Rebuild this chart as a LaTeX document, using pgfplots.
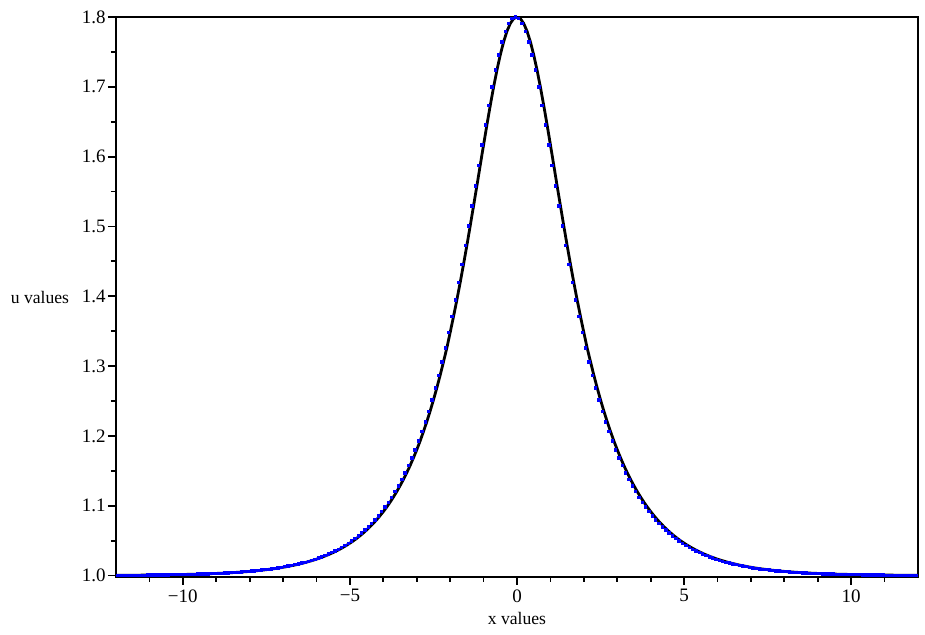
\documentclass[border=0pt]{standalone}
\usepackage{fontspec}
\setmainfont{Liberation Serif}
\usepackage{pgfplots}
\pgfplotsset{compat=1.18}
\usepackage{pgfplotstable}
\pgfplotstableread{
x u
-12.0 1.0004
-11.9 1.0004
-11.8 1.0005
-11.7 1.0005
-11.6 1.0005
-11.5 1.0006
-11.4 1.0006
-11.3 1.0006
-11.2 1.0007
-11.1 1.0007
-11.0 1.0008
-10.9 1.0008
-10.8 1.0009
-10.7 1.0010
-10.6 1.0010
-10.5 1.0011
-10.4 1.0012
-10.3 1.0013
-10.2 1.0014
-10.1 1.0014
-10.0 1.0016
-9.9 1.0017
-9.8 1.0018
-9.7 1.0019
-9.6 1.0020
-9.5 1.0022
-9.4 1.0023
-9.3 1.0025
-9.2 1.0027
-9.1 1.0029
-9.0 1.0031
-8.9 1.0033
-8.8 1.0035
-8.7 1.0038
-8.6 1.0040
-8.5 1.0043
-8.4 1.0046
-8.3 1.0049
-8.2 1.0053
-8.1 1.0056
-8.0 1.0060
-7.9 1.0065
-7.8 1.0069
-7.7 1.0074
-7.6 1.0079
-7.5 1.0085
-7.4 1.0091
-7.3 1.0097
-7.2 1.0104
-7.1 1.0111
-7.0 1.0119
-6.9 1.0128
-6.8 1.0137
-6.7 1.0146
-6.6 1.0157
-6.5 1.0168
-6.4 1.0179
-6.3 1.0192
-6.2 1.0206
-6.1 1.0220
-6.0 1.0235
-5.9 1.0252
-5.8 1.0270
-5.7 1.0289
-5.6 1.0309
-5.5 1.0331
-5.4 1.0354
-5.3 1.0379
-5.2 1.0406
-5.1 1.0434
-5.0 1.0465
-4.9 1.0497
-4.8 1.0532
-4.7 1.0570
-4.6 1.0610
-4.5 1.0653
-4.4 1.0699
-4.3 1.0748
-4.2 1.0800
-4.1 1.0857
-4.0 1.0917
-3.9 1.0981
-3.8 1.1050
-3.7 1.1124
-3.6 1.1202
-3.5 1.1287
-3.4 1.1376
-3.3 1.1473
-3.2 1.1575
-3.1 1.1685
-3.0 1.1802
-2.9 1.1927
-2.8 1.2061
-2.7 1.2203
-2.6 1.2355
-2.5 1.2516
-2.4 1.2687
-2.3 1.2869
-2.2 1.3062
-2.1 1.3259
-2.0 1.3482
-1.9 1.3710
-1.8 1.3948
-1.7 1.4198
-1.6 1.4459
-1.5 1.4729
-1.4 1.5009
-1.3 1.5295
-1.2 1.5583
-1.1 1.5878
-1.0 1.6170
-0.9 1.6457
-0.8 1.6734
-0.7 1.6997
-0.6 1.7240
-0.5 1.7458
-0.4 1.7645
-0.3 1.7797
-0.2 1.7908
-0.1 1.7977
0.0 1.8000
0.1 1.7977
0.2 1.7908
0.3 1.7797
0.4 1.7645
0.5 1.7458
0.6 1.7240
0.7 1.6997
0.8 1.6734
0.9 1.6457
1.0 1.6170
1.1 1.5878
1.2 1.5583
1.3 1.5295
1.4 1.5009
1.5 1.4729
1.6 1.4459
1.7 1.4198
1.8 1.3948
1.9 1.3710
2.0 1.3482
2.1 1.3259
2.2 1.3062
2.3 1.2869
2.4 1.2687
2.5 1.2516
2.6 1.2355
2.7 1.2203
2.8 1.2061
2.9 1.1927
3.0 1.1802
3.1 1.1685
3.2 1.1575
3.3 1.1473
3.4 1.1376
3.5 1.1287
3.6 1.1202
3.7 1.1124
3.8 1.1050
3.9 1.0981
4.0 1.0917
4.1 1.0857
4.2 1.0800
4.3 1.0748
4.4 1.0699
4.5 1.0653
4.6 1.0610
4.7 1.0570
4.8 1.0532
4.9 1.0497
5.0 1.0465
5.1 1.0434
5.2 1.0406
5.3 1.0379
5.4 1.0354
5.5 1.0331
5.6 1.0309
5.7 1.0289
5.8 1.0270
5.9 1.0252
6.0 1.0235
6.1 1.0220
6.2 1.0206
6.3 1.0192
6.4 1.0179
6.5 1.0168
6.6 1.0157
6.7 1.0146
6.8 1.0137
6.9 1.0128
7.0 1.0119
7.1 1.0111
7.2 1.0104
7.3 1.0097
7.4 1.0091
7.5 1.0085
7.6 1.0079
7.7 1.0074
7.8 1.0069
7.9 1.0065
8.0 1.0060
8.1 1.0056
8.2 1.0053
8.3 1.0049
8.4 1.0046
8.5 1.0043
8.6 1.0040
8.7 1.0038
8.8 1.0035
8.9 1.0033
9.0 1.0031
9.1 1.0029
9.2 1.0027
9.3 1.0025
9.4 1.0023
9.5 1.0022
9.6 1.0020
9.7 1.0019
9.8 1.0018
9.9 1.0017
10.0 1.0016
10.1 1.0014
10.2 1.0014
10.3 1.0013
10.4 1.0012
10.5 1.0011
10.6 1.0010
10.7 1.0010
10.8 1.0009
10.9 1.0008
11.0 1.0008
11.1 1.0007
11.2 1.0007
11.3 1.0006
11.4 1.0006
11.5 1.0006
11.6 1.0005
11.7 1.0005
11.8 1.0005
11.9 1.0004
12.0 1.0004
}\soliton
\begin{document}
\begin{tikzpicture}
\begin{axis}[
  scale only axis,
  width=401pt, height=280pt,
  xmin=-12, xmax=12, ymin=0.998, ymax=1.8,
  axis line style={line width=1.3pt, black},
  xtick={-10,-5,0,5,10},
  xticklabels={−10,−5,0,5,10},
  ytick={1.0,1.1,1.2,1.3,1.4,1.5,1.6,1.7,1.8},
  yticklabels={1.0,1.1,1.2,1.3,1.4,1.5,1.6,1.7,1.8},
  minor xtick={-11,-9,-8,-7,-6,-4,-3,-2,-1,1,2,3,4,6,7,8,9,11},
  minor ytick={1.05,1.15,1.25,1.35,1.45,1.55,1.65,1.75},
  tick align=outside,
  xtick pos=bottom, ytick pos=left,
  major tick length=4pt, minor tick length=2.5pt,
  every tick/.style={black, line width=0.9pt},
  tick label style={font=\fontsize{9.5}{11}\selectfont},
  yticklabel style={inner sep=1pt},
  xticklabel style={inner sep=2pt},
  label style={font=\fontsize{8.8}{10}\selectfont},
  xlabel={x values}, ylabel={u values},
  xlabel style={at={(axis description cs:0.5,-0.0732)}, anchor=center},
  ylabel style={rotate=-90, at={(axis description cs:-0.0948,0.5)}, anchor=center},
]
\addplot[only marks, mark=square*, mark size=0.6pt, color=blue]
  table[x expr=\thisrow{x}-0.05, y=u] {\soliton};
\addplot[black, line width=1.4pt] table[x=x, y=u] {\soliton};
\end{axis}
\path ([xshift=-58pt,yshift=-29pt]current axis.south west) rectangle ([xshift=3.5pt,yshift=8.5pt]current axis.north east);
\end{tikzpicture}
\end{document}
